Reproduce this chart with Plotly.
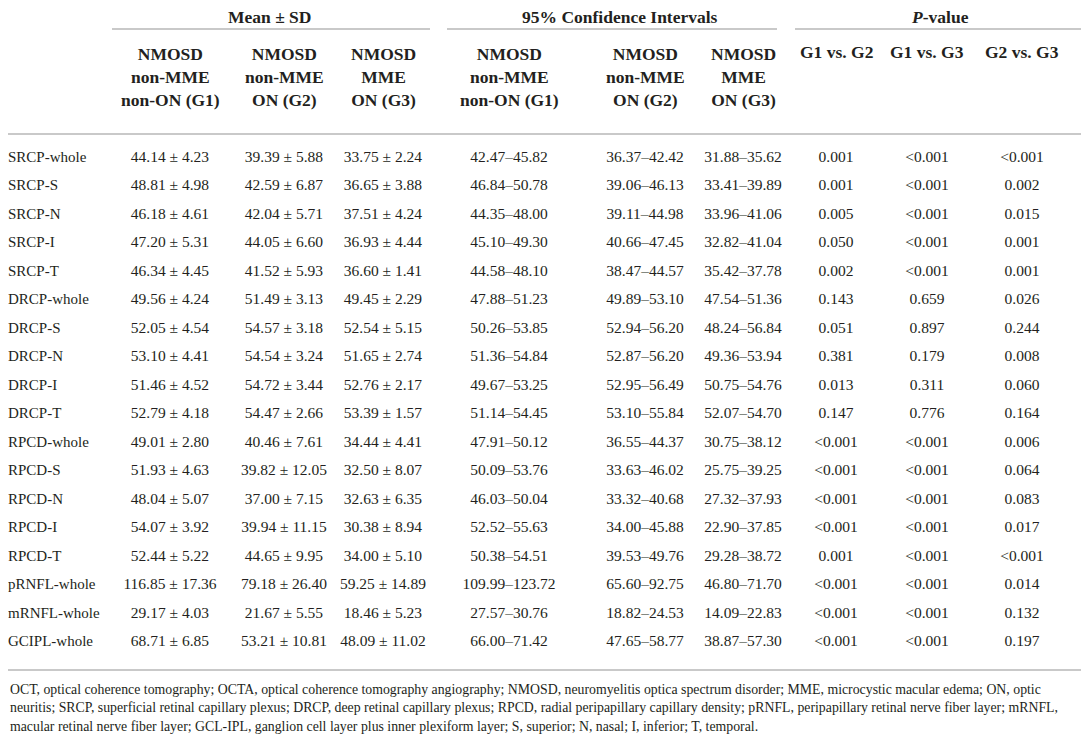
import plotly.graph_objects as go

# row labels
params = ["SRCP-whole", "SRCP-S", "SRCP-N", "SRCP-I", "SRCP-T",
          "DRCP-whole", "DRCP-S", "DRCP-N", "DRCP-I", "DRCP-T",
          "RPCD-whole", "RPCD-S", "RPCD-N", "RPCD-I", "RPCD-T",
          "pRNFL-whole", "mRNFL-whole", "GCIPL-whole"]

# mean / sd per group
g1_mean = [44.14, 48.81, 46.18, 47.20, 46.34, 49.56, 52.05, 53.10, 51.46, 52.79,
           49.01, 51.93, 48.04, 54.07, 52.44, 116.85, 29.17, 68.71]
g1_sd = [4.23, 4.98, 4.61, 5.31, 4.45, 4.24, 4.54, 4.41, 4.52, 4.18,
         2.80, 4.63, 5.07, 3.92, 5.22, 17.36, 4.03, 6.85]
g2_mean = [39.39, 42.59, 42.04, 44.05, 41.52, 51.49, 54.57, 54.54, 54.72, 54.47,
           40.46, 39.82, 37.00, 39.94, 44.65, 79.18, 21.67, 53.21]
g2_sd = [5.88, 6.87, 5.71, 6.60, 5.93, 3.13, 3.18, 3.24, 3.44, 2.66,
         7.61, 12.05, 7.15, 11.15, 9.95, 26.40, 5.55, 10.81]
g3_mean = [33.75, 36.65, 37.51, 36.93, 36.60, 49.45, 52.54, 51.65, 52.76, 53.39,
           34.44, 32.50, 32.63, 30.38, 34.00, 59.25, 18.46, 48.09]
g3_sd = [2.24, 3.88, 4.24, 4.44, 1.41, 2.29, 5.15, 2.74, 2.17, 1.57,
         4.41, 8.07, 6.35, 8.94, 5.10, 14.89, 5.23, 11.02]

# 95% CI lower / upper
g1_lo = [42.47, 46.84, 44.35, 45.10, 44.58, 47.88, 50.26, 51.36, 49.67, 51.14,
         47.91, 50.09, 46.03, 52.52, 50.38, 109.99, 27.57, 66.00]
g1_hi = [45.82, 50.78, 48.00, 49.30, 48.10, 51.23, 53.85, 54.84, 53.25, 54.45,
         50.12, 53.76, 50.04, 55.63, 54.51, 123.72, 30.76, 71.42]
g2_lo = [36.37, 39.06, 39.11, 40.66, 38.47, 49.89, 52.94, 52.87, 52.95, 53.10,
         36.55, 33.63, 33.32, 34.00, 39.53, 65.60, 18.82, 47.65]
g2_hi = [42.42, 46.13, 44.98, 47.45, 44.57, 53.10, 56.20, 56.20, 56.49, 55.84,
         44.37, 46.02, 40.68, 45.88, 49.76, 92.75, 24.53, 58.77]
g3_lo = [31.88, 33.41, 33.96, 32.82, 35.42, 47.54, 48.24, 49.36, 50.75, 52.07,
         30.75, 25.75, 27.32, 22.90, 29.28, 46.80, 14.09, 38.87]
g3_hi = [35.62, 39.89, 41.06, 41.04, 37.78, 51.36, 56.84, 53.94, 54.76, 54.70,
         38.12, 39.25, 37.93, 37.85, 38.72, 71.70, 22.83, 57.30]

# p-values
p12 = ["0.001", "0.001", "0.005", "0.050", "0.002", "0.143", "0.051", "0.381", "0.013", "0.147",
       "<0.001", "<0.001", "<0.001", "<0.001", "0.001", "<0.001", "<0.001", "<0.001"]
p13 = ["<0.001", "<0.001", "<0.001", "<0.001", "<0.001", "0.659", "0.897", "0.179", "0.311", "0.776",
       "<0.001", "<0.001", "<0.001", "<0.001", "<0.001", "<0.001", "<0.001", "<0.001"]
p23 = ["<0.001", "0.002", "0.015", "0.001", "0.001", "0.026", "0.244", "0.008", "0.060", "0.164",
       "0.006", "0.064", "0.083", "0.017", "<0.001", "0.014", "0.132", "0.197"]

group_head = ["NMOSD<br>non-MME<br>non-ON (G1)", "NMOSD<br>non-MME<br>ON (G2)", "NMOSD<br>MME<br>ON (G3)"]
p_head = ["G1 vs. G2", "G1 vs. G3", "G2 vs. G3"]

footnote = [
    "OCT, optical coherence tomography; OCTA, optical coherence tomography angiography; NMOSD, neuromyelitis optica spectrum disorder; MME, microcystic macular edema; ON, optic",
    "neuritis; SRCP, superficial retinal capillary plexus; DRCP, deep retinal capillary plexus; RPCD, radial peripapillary capillary density; pRNFL, peripapillary retinal nerve fiber layer; mRNFL,",
    "macular retinal nerve fiber layer; GCL-IPL, ganglion cell layer plus inner plexiform layer; S, superior; N, nasal; I, inferior; T, temporal.",
]

# layout, in page pixels (the page body keeps an 8px margin)
W, H = 1089, 738
PAD = 8
FONT = "Liberation Serif"
INK = "#231f20"
RULE = "#c9c9c9"
row0, step = 158, 28.5
rows_y = [row0 + step * i for i in range(len(params))]
label_x = 8
mean_x = [170, 284, 383]
ci_x = [509, 645, 743]
p_x = [836, 927, 1022]


def pm(m, s):
    return [f"{a:.2f} \u00b1 {b:.2f}" for a, b in zip(m, s)]


def rng(lo, hi):
    return [f"{a:.2f}\u2013{b:.2f}" for a, b in zip(lo, hi)]


columns = [
    (mean_x[0], pm(g1_mean, g1_sd)),
    (mean_x[1], pm(g2_mean, g2_sd)),
    (mean_x[2], pm(g3_mean, g3_sd)),
    (ci_x[0], rng(g1_lo, g1_hi)),
    (ci_x[1], rng(g2_lo, g2_hi)),
    (ci_x[2], rng(g3_lo, g3_hi)),
    (p_x[0], p12),
    (p_x[1], p13),
    (p_x[2], p23),
]

fig = go.Figure()
fig.add_trace(go.Scatter(
    x=[label_x] * len(params), y=rows_y, text=params, mode="text",
    textposition="middle right", textfont=dict(family=FONT, size=15, color=INK),
    hoverinfo="skip", showlegend=False, cliponaxis=False))
for x, txt in columns:
    fig.add_trace(go.Scatter(
        x=[x] * len(txt), y=rows_y, text=txt, mode="text",
        textposition="middle center", textfont=dict(family=FONT, size=15.5, color=INK),
        hoverinfo="skip", showlegend=False, cliponaxis=False))

head = dict(family=FONT, size=17.5, color=INK)
ann = [dict(x=270, y=17, text="<b>Mean \u00b1 SD</b>"),
       dict(x=620, y=17, text="<b>95% Confidence Intervals</b>"),
       dict(x=940, y=17, text="<b><i>P</i>-value</b>")]
for x, t in zip(mean_x + ci_x, group_head * 2):
    ann.append(dict(x=x, y=77, text=f"<b>{t}</b>"))
for x, t in zip(p_x, p_head):
    ann.append(dict(x=x, y=52, text=f"<b>{t}</b>"))
for a in ann:
    fig.add_annotation(xref="x", yref="y", showarrow=False, font=head,
                       xanchor="center", yanchor="middle", borderpad=0, **a)

for i, line in enumerate(footnote):
    fig.add_annotation(x=label_x, y=689 + 18.5 * i, text=line, xref="x", yref="y",
                       showarrow=False, xanchor="left", yanchor="middle",
                       font=dict(family=FONT, size=13.8, color=INK))

rules = [(112, 430, 29), (447, 777, 29), (795, W, 29), (PAD, W, 134), (PAD, W, 670)]
for x0, x1, y in rules:
    fig.add_shape(type="line", x0=x0, x1=x1, y0=y, y1=y, xref="x", yref="y",
                  line=dict(color=RULE, width=2))

fig.update_xaxes(range=[PAD, W], visible=False, fixedrange=True)
fig.update_yaxes(range=[H, PAD], visible=False, fixedrange=True)
fig.update_layout(width=W - PAD, height=H - PAD, margin=dict(l=0, r=0, t=0, b=0),
                  plot_bgcolor="white", paper_bgcolor="white")

fig.write_html("out.html")
